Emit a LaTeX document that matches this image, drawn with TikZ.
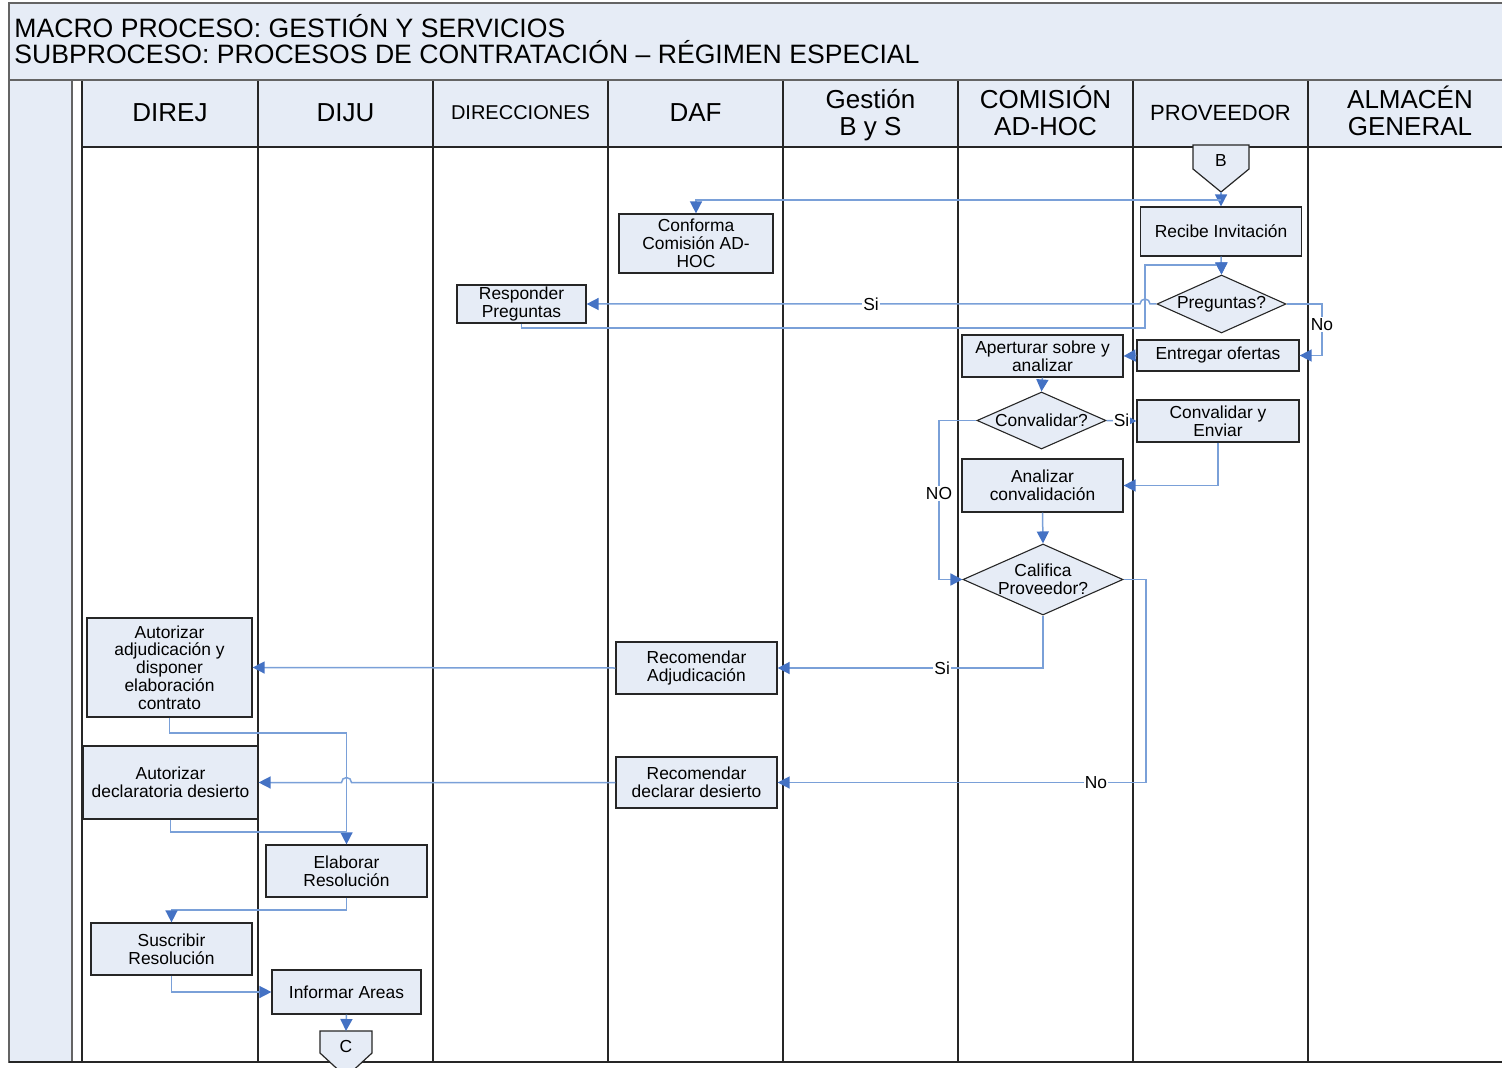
\documentclass[tikz,border=0pt]{standalone}
\usepackage{fontspec}
\setmainfont{Liberation Sans}
\usetikzlibrary{arrows.meta,shapes.geometric}

\definecolor{paneblue}{RGB}{230,236,246}
\definecolor{flowline}{RGB}{122,160,216}
\definecolor{flowtip}{RGB}{68,114,196}
\definecolor{edgegray}{RGB}{38,38,38}
\definecolor{framegray}{RGB}{100,100,100}

\newcommand\boxfont{\fontsize{8.7}{8.9}\selectfont}
\newcommand\headfont{\fontsize{13}{13.5}\selectfont}
\newcommand\titlefont{\fontsize{13.3}{13.5}\selectfont}

\begin{document}
\begin{tikzpicture}[x=0.5pt,y=-0.5pt,
  proc/.style={draw=edgegray, fill=paneblue, line width=0.6pt, align=center, inner sep=1pt, font=\boxfont},
  decision/.style={diamond, draw=edgegray, fill=paneblue, line width=0.55pt, inner sep=0pt},
  inside/.style={align=center, inner sep=0pt, font=\boxfont},
  flow/.style={draw=flowline, line width=0.75pt, -{Triangle[length=6pt,width=6pt,color=flowtip]}},
  link/.style={draw=flowline, line width=0.75pt},
  lbl/.style={fill=white, inner sep=0.6pt, font=\boxfont},
  lane/.style={draw=edgegray, line width=1pt},
  lanehead/.style={align=center, font=\headfont, inner sep=0pt},
]
\useasboundingbox (0,0) rectangle (1502,1068);
\clip (0,0) rectangle (1502,1068);

% ---------- frame, title band and swimlanes ----------
\filldraw[fill=paneblue, draw=framegray, line width=0.8pt] (9,3) rectangle (1515,80);
\fill[paneblue] (82,80) rectangle (1515,147);
\filldraw[fill=paneblue, draw=framegray, line width=0.8pt] (9,80) rectangle (72,1062);
\foreach \x in {82,258,433,608,783,958,1133,1308}
  \draw[lane] (\x,80) -- (\x,1062);
\draw[lane] (82,147) -- (1515,147);
\draw[lane] (9,1062) -- (1515,1062);
\draw[draw=framegray, line width=1.4pt] (9,80) -- (1515,80);

\node[anchor=base west, font=\titlefont, inner sep=0pt] (macro) at (14,38) {MACRO PROCESO: GESTIÓN Y SERVICIOS};
\node[anchor=base west, font=\titlefont, inner sep=0pt] (subproc) at (14,64) {SUBPROCESO: PROCESOS DE CONTRATACIÓN – RÉGIMEN ESPECIAL};

\node[lanehead] (hdirej) at (170,112.5) {DIREJ};
\node[lanehead] (hdiju) at (345.5,112.5) {DIJU};
\node[lanehead, font=\fontsize{10}{12}\selectfont] (hdirecc) at (520.5,113) {DIRECCIONES};
\node[lanehead] (hdaf) at (695.5,112.5) {DAF};
\node[lanehead] (hgbys) at (870.5,115.5) {Gestión\\B y S};
\node[lanehead] (hcomision) at (1045.5,110.5) {COMISIÓN\\AD-HOC};
\node[lanehead, font=\fontsize{11}{13}\selectfont] (hprov) at (1220.5,113) {PROVEEDOR};
\node[lanehead] (halmacen) at (1410,110.5) {ALMACÉN\\GENERAL};

% ---------- off-page connectors ----------
\filldraw[fill=paneblue, draw=edgegray, line width=0.6pt]
  (1193,145) -- (1249,145) -- (1249,169) -- (1221,192) -- (1193,169) -- cycle;
\node[inside] (bmark) at (1221,161) {B};
\coordinate (btip) at (1221,192);
\coordinate (bjoin) at (1221,200);

\filldraw[fill=paneblue, draw=edgegray, line width=0.6pt]
  (320,1031) -- (372,1031) -- (372,1053) -- (346,1077) -- (320,1053) -- cycle;
\node[inside] (cmark) at (346,1046) {C};
\coordinate (ctop) at (346,1031);

% ---------- activities ----------
\node[proc, minimum width=77pt, minimum height=29.5pt] (conforma) at (696,243.5) {Conforma\\Comisión AD-\\HOC};
\node[proc, minimum width=80.5pt, minimum height=24.5pt] (recibe) at (1221,231.5) {Recibe Invitación};
\node[proc, minimum width=64.5pt, minimum height=17pt] (responder) at (521.5,304) {Responder\\Preguntas};
\node[proc, minimum width=81pt, minimum height=15.5pt] (entregar) at (1218,355.5) {Entregar ofertas};
\node[proc, minimum width=80.5pt, minimum height=21pt] (apertura) at (1042.5,356) {Aperturar sobre y\\analizar};
\node[proc, minimum width=81pt, minimum height=21pt] (convenv) at (1218,421) {Convalidar y\\Enviar};
\node[proc, minimum width=80.5pt, minimum height=26.5pt] (analizar) at (1042.5,485.5) {Analizar\\convalidación};
\node[proc, minimum width=80.5pt, minimum height=26pt] (recadj) at (696.5,668) {Recomendar\\Adjudicación};
\node[proc, minimum width=80.5pt, minimum height=25.5pt] (recdes) at (696.5,782.5) {Recomendar\\declarar desierto};
\node[proc, minimum width=82.5pt, minimum height=49.5pt] (autadj) at (169.5,667.5) {Autorizar\\adjudicación y\\disponer\\elaboración\\contrato};
\node[proc, minimum width=87.5pt, minimum height=36.5pt] (autdes) at (170.5,782.5) {Autorizar\\declaratoria desierto};
\node[proc, minimum width=80.5pt, minimum height=26pt] (elaborar) at (346.5,871) {Elaborar\\Resolución};
\node[proc, minimum width=80.5pt, minimum height=26pt] (suscribir) at (171.5,949) {Suscribir\\Resolución};
\node[proc, minimum width=74.5pt, minimum height=22pt] (informar) at (346.5,992) {Informar Areas};

% ---------- decisions ----------
\node[decision, minimum width=64.5pt, minimum height=29pt] (preg) at (1221.5,304) {};
\node[inside] (pregtext) at (preg) {Preguntas?};
\node[decision, minimum width=64.5pt, minimum height=28.5pt] (conv) at (1041.5,420.5) {};
\node[inside] (convtext) at (conv) {Convalidar?};
\node[decision, minimum width=80pt, minimum height=35.5pt] (calif) at (1043,579.5) {};
\node[inside] (califtext) at (calif) {Califica\\Proveedor?};

% ---------- flows ----------
\draw[flow] (btip) -- (recibe.north);
\draw[flow] (bjoin) -| (conforma.north);
\draw[flow] (recibe.south) -- (preg.north);
\draw[flow] (preg.west) -- (1150,304) arc[start angle=0, end angle=180, radius=2.5pt]
  -- node[lbl, pos=0.486] {Si} (responder.east);
\draw[flow] (responder.south) |- (1145,328) -- (1145,265) -| (preg.north);
\draw[flow] (preg.east) -- (1322,304) -- node[lbl, pos=0.4] {No} (1322,355.5) -- (entregar.east);
\draw[flow] (entregar.west) -- (apertura.east);
\draw[flow] (apertura.south) -- (conv.north);
\draw[flow] (conv.east) -- node[lbl, pos=0.5] {Si} (convenv.west);
\draw[flow] (convenv.south) |- (analizar.east);
\draw[flow] (analizar.south) -- (calif.north);
\draw[flow] (conv.west) -- (939,420.5) -- node[lbl, pos=0.46] {NO} (939,579.5) -- (calif.west);
\draw[flow] (calif.south) |- node[lbl, pos=0.69] {Si} (recadj.east);
\draw[flow] (calif.east) -- (1146,579.5) |- node[lbl, pos=0.568] {No} (recdes.east);
\draw[flow] (recadj.west) -- (autadj.east);
\draw[flow] (recdes.west) -- (351.5,782.5) arc[start angle=0, end angle=180, radius=2.5pt] -- (autdes.east);
\draw[flow] (autadj.south) -- (169.5,733) -| (elaborar.north);
\draw[link] (autdes.south) |- (346.5,832);
\draw[flow] (elaborar.south) -- (346.5,910) -| (suscribir.north);
\draw[flow] (suscribir.south) |- (informar.west);
\draw[flow] (informar.south) -- (ctop);
\end{tikzpicture}
\end{document}
